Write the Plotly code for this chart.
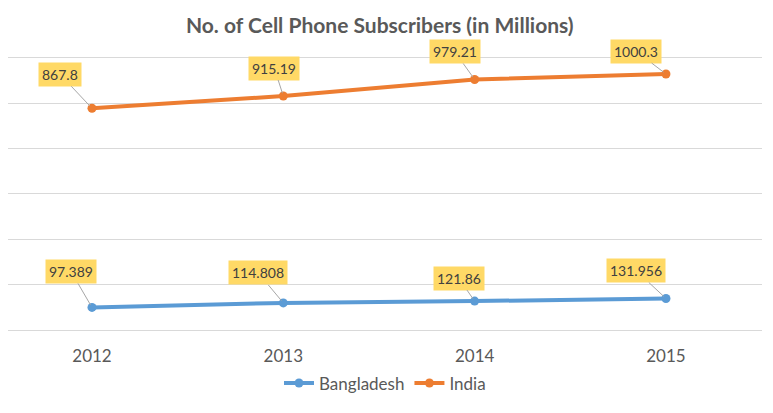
import plotly.graph_objects as go

years = ["2012", "2013", "2014", "2015"]
bangladesh = [97.389, 114.808, 121.86, 131.956]
india = [867.8, 915.19, 979.21, 1000.3]

# label box offsets (px) relative to each point
bd_offsets = [(-21, -36), (-25, -30), (-16, -23), (-30, -28)]
in_offsets = [(-32, -34), (-9, -28), (-20, -28), (-30, -23)]

BLUE = "#5B9BD5"
ORANGE = "#ED7D31"
FONT = "Lato"

fig = go.Figure()
fig.add_trace(go.Scatter(x=years, y=bangladesh, name="Bangladesh", mode="lines+markers",
                         line=dict(color=BLUE, width=4), marker=dict(size=9, color=BLUE)))
fig.add_trace(go.Scatter(x=years, y=india, name="India", mode="lines+markers",
                         line=dict(color=ORANGE, width=4), marker=dict(size=9, color=ORANGE)))

annotations = []
for vals, offs in ((bangladesh, bd_offsets), (india, in_offsets)):
    for i, (v, (ax, ay)) in enumerate(zip(vals, offs)):
        annotations.append(dict(
            x=i, y=v, xref="x", yref="y", text=str(v),
            showarrow=True, arrowhead=0, arrowwidth=1, arrowcolor="#A6A6A6",
            ax=ax, ay=ay, bgcolor="#FFD966", borderpad=3, standoff=3,
            font=dict(family=FONT, size=14, color="#404040")))

fig.update_layout(
    width=765, height=405,
    margin=dict(l=0, r=11, t=48, b=83),
    paper_bgcolor="white", plot_bgcolor="white",
    title=dict(text="<b>No. of Cell Phone Subscribers (in Millions)</b>",
               x=0.486, xanchor="center", y=0.956, yanchor="middle",
               font=dict(family=FONT, size=21, color="#595959")),
    xaxis=dict(type="category", range=[-0.439, 3.502], showgrid=False, zeroline=False,
               showline=True, linecolor="#D9D9D9", linewidth=1,
               ticks="outside", ticklen=11, tickcolor="rgba(0,0,0,0)",
               tickfont=dict(family=FONT, size=17, color="#595959")),
    yaxis=dict(range=[10, 1070], tick0=10, dtick=175.5, showgrid=True,
               gridcolor="#D9D9D9", gridwidth=1, zeroline=False,
               showticklabels=False, showline=False),
    legend=dict(orientation="h", x=0.5, xanchor="center", y=-0.195, yanchor="middle",
                font=dict(family=FONT, size=17, color="#595959")),
    annotations=annotations,
    showlegend=True,
)

fig.write_html("out.html")
